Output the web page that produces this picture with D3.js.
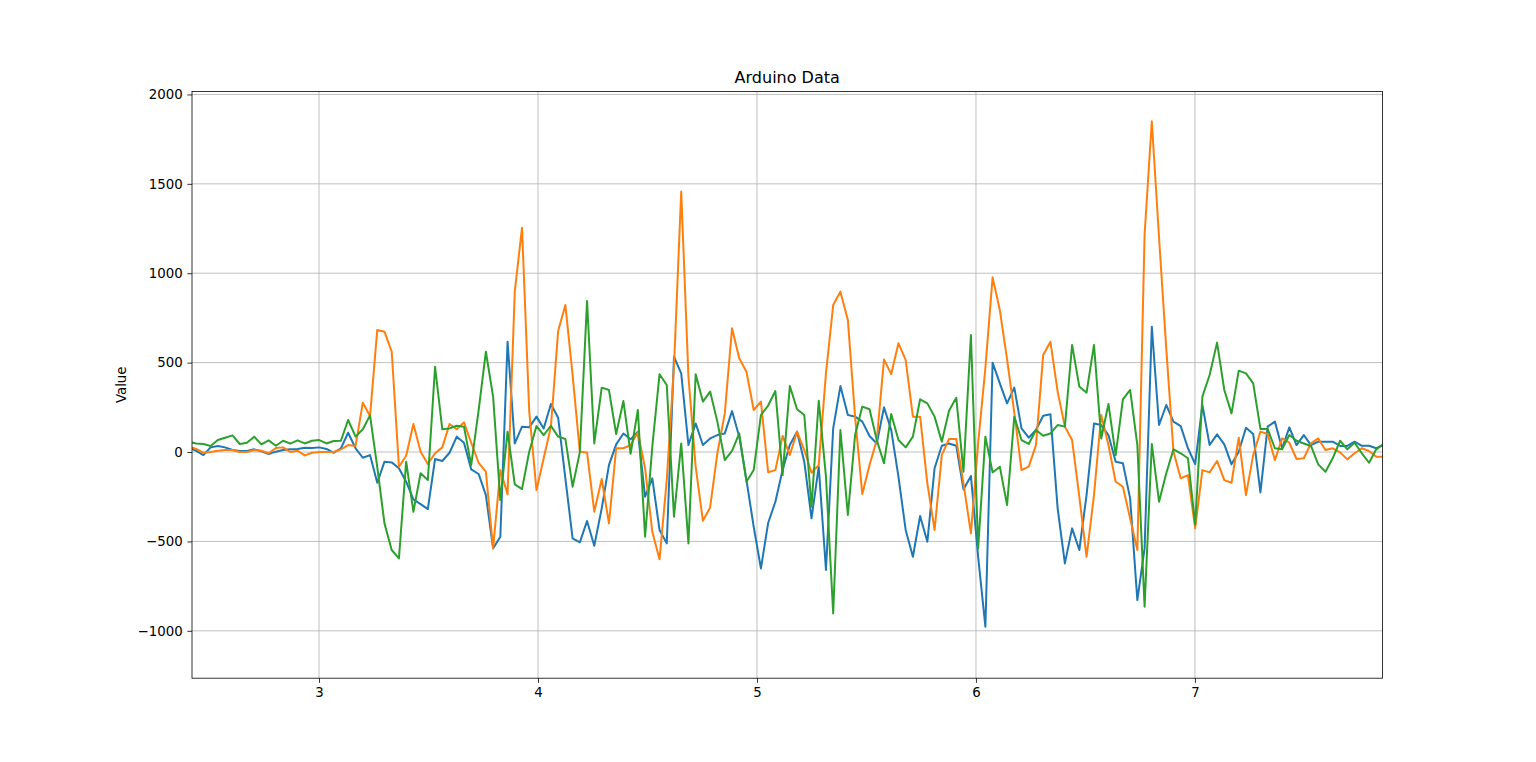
<!DOCTYPE html>
<html>
<head>
<meta charset="utf-8">
<script src="https://cdn.jsdelivr.net/npm/d3@7"></script>
<style>
  body { margin: 0; background: #fff; }
  svg { display: block; font-family: "DejaVu Sans", sans-serif; }
</style>
</head>
<body>
<svg id="chart"></svg>
<script>
// sample times (s)
const time = [
  2.406, 2.439, 2.472, 2.505, 2.538, 2.571, 2.605, 2.638, 2.671, 2.704,
  2.737, 2.770, 2.803, 2.836, 2.869, 2.902, 2.935, 2.968, 3.001, 3.034,
  3.067, 3.100, 3.133, 3.167, 3.200, 3.233, 3.266, 3.299, 3.332, 3.365,
  3.398, 3.431, 3.464, 3.497, 3.530, 3.563, 3.596, 3.629, 3.662, 3.695,
  3.729, 3.762, 3.795, 3.828, 3.861, 3.894, 3.927, 3.960, 3.993, 4.026,
  4.059, 4.092, 4.125, 4.158, 4.191, 4.224, 4.257, 4.291, 4.324, 4.357,
  4.390, 4.423, 4.456, 4.489, 4.522, 4.555, 4.588, 4.621, 4.654, 4.687,
  4.720, 4.753, 4.786, 4.819, 4.853, 4.886, 4.919, 4.952, 4.985, 5.018,
  5.051, 5.084, 5.117, 5.150, 5.183, 5.216, 5.249, 5.282, 5.315, 5.348,
  5.381, 5.415, 5.448, 5.481, 5.514, 5.547, 5.580, 5.613, 5.646, 5.679,
  5.712, 5.745, 5.778, 5.811, 5.844, 5.877, 5.910, 5.943, 5.977, 6.010,
  6.043, 6.076, 6.109, 6.142, 6.175, 6.208, 6.241, 6.274, 6.307, 6.340,
  6.373, 6.406, 6.439, 6.472, 6.505, 6.539, 6.572, 6.605, 6.638, 6.671,
  6.704, 6.737, 6.770, 6.803, 6.836, 6.869, 6.902, 6.935, 6.968, 7.001,
  7.034, 7.067, 7.101, 7.134, 7.167, 7.200, 7.233, 7.266, 7.299, 7.332,
  7.365, 7.398, 7.431, 7.464, 7.497, 7.530, 7.563, 7.596, 7.629, 7.663,
  7.696, 7.729, 7.762, 7.795, 7.828, 7.861
];

const valuesBlue = [
  25, 7, -17, 26, 34, 26, 11, 6, 6, 15,
  4, -11, 2, 11, 15, 17, 24, 22, 26, 17,
  -4, 20, 108, 21, -32, -17, -172, -54, -58, -91,
  -166, -265, -291, -319, -39, -50, -4, 86, 52, -97,
  -123, -241, -539, -474, 617, 48, 142, 138, 198, 132,
  269, 192, -147, -483, -505, -386, -524, -315, -73, 43,
  104, 71, 114, -250, -147, -436, -511, 533, 440, 39,
  160, 39, 76, 95, 104, 229, 86, -157, -418, -651,
  -397, -278, -101, 39, 114, -54, -371, -82, -660, 132,
  369, 207, 198, 170, 90, 48, 250, 123, -138, -436,
  -586, -358, -502, -91, 35, 48, 35, -209, -134, -586,
  -977, 500, 384, 272, 360, 132, 80, 123, 203, 211,
  -315, -623, -427, -548, -241, 160, 151, 95, -54, -63,
  -259, -828, -539, 701, 151, 263, 170, 145, 21, -67,
  263, 39, 99, 43, -69, 2, 136, 101, -226, 142,
  170, 21, 138, 39, 95, 39, 58, 58, 58, 34,
  34, 58, 35, 35, 21, 39
];

const valuesOrange = [
  30, 17, -4, 0, 7, 11, 11, 0, 0, 11,
  7, -7, 22, 26, 0, 7, -19, -4, 0, 0,
  0, 15, 39, 34, 276, 201, 683, 673, 561, -82,
  -21, 157, 2, -67, -7, 26, 157, 127, 166, 52,
  -60, -110, -539, -101, -237, 897, 1255, 226, -213, -35,
  142, 677, 822, 431, 2, -2, -334, -151, -399, 21,
  21, 39, 110, -91, -446, -600, -157, 477, 1457, 421,
  -82, -384, -310, -7, 216, 692, 524, 449, 235, 282,
  -113, -101, 90, -17, 114, 11, -116, -73, 440, 822,
  897, 739, 198, -235, -73, 67, 518, 436, 608, 515,
  198, 198, -175, -436, -17, 73, 73, -175, -455, 50,
  470, 977, 794, 520, 220, -101, -82, 39, 543, 617,
  338, 142, 67, -250, -586, -241, 207, 39, -166, -194,
  -371, -548, 1214, 1850, 1200, 580, 2, -147, -129, -427,
  -101, -114, -50, -157, -172, 80, -241, -17, 114, 101,
  -45, 76, 52, -39, -35, 48, 76, 11, 21, -2,
  -41, -7, 21, 6, -26, -26
];

const valuesGreen = [
  58, 48, 45, 34, 67, 80, 93, 45, 52, 86,
  43, 65, 35, 63, 47, 65, 48, 63, 67, 48,
  62, 63, 179, 86, 127, 205, -85, -399, -548, -595,
  -54, -334, -119, -157, 477, 127, 132, 147, 142, -73,
  235, 561, 310, -269, 114, -181, -207, 2, 145, 95,
  147, 86, 73, -194, -2, 845, 48, 360, 347, 101,
  285, -10, 235, -474, 30, 435, 375, -362, 48, -511,
  435, 282, 338, 170, -45, 7, 104, -166, -101, 207,
  260, 341, -129, 369, 239, 207, -306, 287, -138, -903,
  123, -352, 95, 254, 239, 67, -63, 213, 67, 26,
  86, 295, 272, 198, 58, 231, 304, -110, 655, -539,
  86, -114, -82, -297, 198, 67, 45, 123, 91, 104,
  151, 142, 599, 366, 332, 599, 76, 269, -17, 295,
  347, 39, -865, 45, -278, -119, 15, -7, -35, -405,
  310, 431, 612, 347, 216, 455, 440, 384, 129, 129,
  21, 15, 95, 63, 48, 34, -69, -110, -35, 63,
  15, 52, -7, -60, 15, 45
];

const xTicks = [3, 4, 5, 6, 7];
const yTicks = [-1000, -500, 0, 500, 1000, 1500, 2000];
const seriesColors = ['#1f77b4', '#ff7f0e', '#2ca02c'];

const width = 1536;
const height = 762;
const margin = { top: 91.4, right: 153.6, bottom: 83.8, left: 192 };
const innerW = width - margin.left - margin.right;
const innerH = height - margin.top - margin.bottom;

const svg = d3.select('#chart')
  .attr('width', width)
  .attr('height', height);

svg.append('rect')
  .attr('width', width)
  .attr('height', height)
  .attr('fill', '#fff');

const x = d3.scaleLinear().domain([2.420, 7.856]).range([0, innerW]);
const y = d3.scaleLinear().domain([-1265, 2017]).range([innerH, 0]);

const g = svg.append('g')
  .attr('transform', `translate(${margin.left},${margin.top})`);

g.append('defs').append('clipPath')
  .attr('id', 'plot-clip')
  .append('rect')
  .attr('width', innerW)
  .attr('height', innerH);

// grid
g.append('g')
  .selectAll('line')
  .data(xTicks)
  .enter().append('line')
  .attr('x1', d => x(d)).attr('x2', d => x(d))
  .attr('y1', 0).attr('y2', innerH)
  .attr('stroke', '#b0b0b0')
  .attr('stroke-width', 0.8);

g.append('g')
  .selectAll('line')
  .data(yTicks)
  .enter().append('line')
  .attr('x1', 0).attr('x2', innerW)
  .attr('y1', d => y(d)).attr('y2', d => y(d))
  .attr('stroke', '#b0b0b0')
  .attr('stroke-width', 0.8);

// series
const series = [valuesBlue, valuesOrange, valuesGreen];
const line = d3.line()
  .x((d, i) => x(time[i]))
  .y(d => y(d));

g.append('g')
  .attr('clip-path', 'url(#plot-clip)')
  .selectAll('path')
  .data(series)
  .enter().append('path')
  .attr('d', d => line(d))
  .attr('fill', 'none')
  .attr('stroke', (d, i) => seriesColors[i])
  .attr('stroke-width', 2)
  .attr('stroke-linejoin', 'round')
  .attr('stroke-linecap', 'square');

// axes
const xAxis = g.append('g')
  .attr('transform', `translate(0,${innerH})`)
  .call(d3.axisBottom(x).tickValues(xTicks).tickFormat(d3.format('d'))
    .tickSize(4.67).tickPadding(4.67).tickSizeOuter(0));

const yAxis = g.append('g')
  .call(d3.axisLeft(y).tickValues(yTicks).tickFormat(d3.format('d'))
    .tickSize(4.67).tickPadding(4.67).tickSizeOuter(0));

[xAxis, yAxis].forEach(ax => {
  ax.select('.domain').remove();
  ax.selectAll('.tick line').attr('stroke', '#000').attr('stroke-width', 0.8);
  ax.selectAll('.tick text')
    .attr('fill', '#000')
    .attr('font-size', '13.33px')
    .attr('font-family', '"DejaVu Sans", sans-serif');
});

// frame
g.append('rect')
  .attr('width', innerW)
  .attr('height', innerH)
  .attr('fill', 'none')
  .attr('stroke', '#000')
  .attr('stroke-width', 0.8);

// title and label
svg.append('text')
  .attr('x', margin.left + innerW / 2)
  .attr('y', margin.top - 8)
  .attr('text-anchor', 'middle')
  .attr('font-size', '16px')
  .attr('fill', '#000')
  .text('Arduino Data');

svg.append('text')
  .attr('transform', `translate(126,${margin.top + innerH / 2}) rotate(-90)`)
  .attr('text-anchor', 'middle')
  .attr('font-size', '13.33px')
  .attr('fill', '#000')
  .text('Value');
</script>
</body>
</html>
